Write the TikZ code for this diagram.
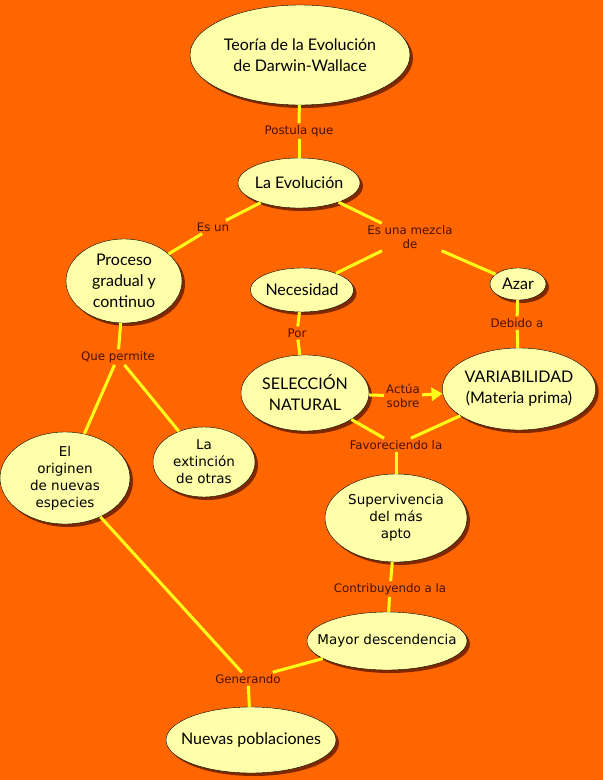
\documentclass[tikz,border=0pt]{standalone}
\usepackage{fontspec}
\setmainfont{DejaVu Sans}
\newfontfamily\papiro{Lato}
\usetikzlibrary{shapes.geometric, arrows.meta, shadows}
\definecolor{fondo}{HTML}{FF6600}
\definecolor{crema}{HTML}{FFFFAA}
\definecolor{amarillo}{HTML}{FFFF1A}
\definecolor{sombra}{HTML}{6A1E00}
\definecolor{marron}{HTML}{4A1000}

\tikzset{
  concepto/.style={ellipse, draw=black, thin, fill=crema, align=center, inner sep=0pt,
    drop shadow={shadow xshift=3pt, shadow yshift=-3pt, fill=sombra, opacity=0.85}},
  papel/.style={font=\papiro\fontsize{16}{21}\selectfont},
  verdana/.style={font=\fontsize{13.5}{17}\selectfont},
  enlace/.style={font=\fontsize{11.8}{14}\selectfont, text=marron, align=center, inner sep=2pt},
  linea/.style={draw=amarillo, line width=3pt},
}

\begin{document}
\begin{tikzpicture}[x=1pt, y=-1pt]
% fondo
\fill[fondo] (0,0) rectangle (603,780);
\useasboundingbox (0,0) rectangle (603,780);

% conceptos
\node[concepto, papel, minimum width=220pt, minimum height=100pt] (teoria) at (300,55) {Teoría de la Evolución\\de Darwin-Wallace};
\node[concepto, papel, minimum width=122pt, minimum height=50pt, inner xsep=-3pt] (evolucion) at (299,183) {La Evolución};
\node[concepto, papel, minimum width=116pt, minimum height=84pt] (proceso) at (124,281) {Proceso\\gradual y\\continuo};
\node[concepto, papel, minimum width=96pt, minimum height=44pt] (necesidad) at (302,290) {Necesidad};
\node[concepto, papel, minimum width=56pt, minimum height=32pt] (azar) at (518,284) {Azar};
\node[concepto, papel, minimum width=128pt, minimum height=76pt] (seleccion) at (305,393) {SELECCIÓN\\NATURAL};
\node[concepto, papel, minimum width=152pt, minimum height=82pt] (variab) at (519,389) {VARIABILIDAD\\(Materia prima)};
\node[concepto, verdana, minimum width=130pt, minimum height=92pt] (origen) at (65,478) {El\\originen\\de nuevas\\especies};
\node[concepto, verdana, minimum width=102pt, minimum height=70pt] (extincion) at (204,462) {La\\extinción\\de otras};
\node[concepto, verdana, minimum width=142pt, minimum height=88pt] (superviv) at (396,518) {Supervivencia\\del más\\apto};
\node[concepto, verdana, minimum width=160pt, minimum height=58pt, inner xsep=-13pt] (mayor) at (387,641) {Mayor descendencia};
\node[concepto, papel, minimum width=170pt, minimum height=66pt, inner xsep=-10pt] (nuevas) at (251,740) {Nuevas poblaciones};

% palabras de enlace
\node[enlace] (postula) at (299,131) {Postula que};
\node[enlace] (esun) at (213,227) {Es un};
\node[enlace] (mezcla) at (410,237) {Es una mezcla\\de};
\node[enlace] (por) at (297,333) {Por};
\node[enlace] (debido) at (517,323) {Debido a};
\node[enlace] (permite) at (118,357) {Que permite};
\node[enlace] (actua) at (403,396) {Actúa\\sobre};
\node[enlace] (favorece) at (396,445) {Favoreciendo la};
\node[enlace] (contribuye) at (390,589) {Contribuyendo a la};
\node[enlace] (genera) at (248,679) {Generando};

% conectores
\draw[linea] (teoria) -- (postula);
\draw[linea] (postula) -- (evolucion);
\draw[linea] (evolucion) -- (esun);
\draw[linea] (esun) -- (proceso);
\draw[linea] (evolucion) -- (mezcla);
\draw[linea] (mezcla) -- (necesidad);
\draw[linea] (mezcla) -- (azar);
\draw[linea] (necesidad) -- (por);
\draw[linea] (por) -- (seleccion);
\draw[linea] (azar) -- (debido);
\draw[linea] (debido) -- (variab);
\draw[linea] (proceso) -- (permite);
\draw[linea] (permite) -- (origen);
\draw[linea] (permite) -- (extincion);
\draw[linea] (seleccion) -- (actua);
\draw[linea, -{Triangle[length=11pt, width=13pt]}] (actua) -- (variab);
\draw[linea] (seleccion) -- (favorece);
\draw[linea] (variab) -- (favorece);
\draw[linea] (favorece) -- (superviv);
\draw[linea] (superviv) -- (contribuye);
\draw[linea] (contribuye) -- (mayor);
\draw[linea] (origen) -- (genera);
\draw[linea] (mayor) -- (genera);
\draw[linea] (genera) -- (nuevas);
\end{tikzpicture}
\end{document}
